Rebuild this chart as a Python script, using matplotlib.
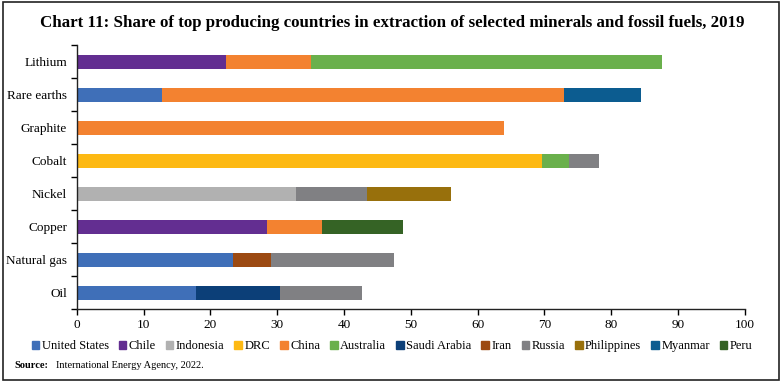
import numpy as np
import matplotlib
matplotlib.use("Agg")
from matplotlib import pyplot as plt
from matplotlib.patches import Rectangle

plt.rcParams['font.family'] = ['Liberation Serif', 'DejaVu Serif']

minerals = ['Lithium', 'Rare earths', 'Graphite', 'Cobalt', 'Nickel', 'Copper', 'Natural gas', 'Oil']
countries = ['United States', 'Chile', 'Indonesia', 'DRC', 'China', 'Australia',
             'Saudi Arabia', 'Iran', 'Russia', 'Philippines', 'Myanmar', 'Peru']
colors = ['#3F6FB8', '#632E91', '#B1B1B1', '#FDB913', '#F38230', '#6AB04C',
          '#0C3F78', '#9C4A12', '#808083', '#98700C', '#0C5C90', '#356325']

# shares in % per mineral, ordered as they are stacked
stacks = {
    'Lithium':     [('Chile', 22.4), ('China', 12.7), ('Australia', 52.5)],
    'Rare earths': [('United States', 12.7), ('China', 60.2), ('Myanmar', 11.5)],
    'Graphite':    [('China', 63.9)],
    'Cobalt':      [('DRC', 69.7), ('Australia', 4.0), ('Russia', 4.4)],
    'Nickel':      [('Indonesia', 32.8), ('Russia', 10.6), ('Philippines', 12.6)],
    'Copper':      [('Chile', 28.4), ('China', 8.3), ('Peru', 12.2)],
    'Natural gas': [('United States', 23.4), ('Iran', 5.7), ('Russia', 18.4)],
    'Oil':         [('United States', 17.9), ('Saudi Arabia', 12.5), ('Russia', 12.3)],
}
xticks = list(range(0, 101, 10))

cmap = dict(zip(countries, colors))

fig = plt.figure(figsize=(7.84, 3.82), dpi=100)
fig.patches.append(Rectangle((0.004, 0.006), 0.99, 0.988, transform=fig.transFigure,
                             fill=False, edgecolor='#222222', linewidth=1.2))
fig.text(0.5, 0.94, 'Chart 11: Share of top producing countries in extraction of selected minerals and fossil fuels, 2019',
         ha='center', va='center', fontsize=12.2, fontweight='bold')

ax = fig.add_axes([0.098, 0.19, 0.852, 0.692])
n = len(minerals)
for i, m in enumerate(minerals):
    y = n - 1 - i
    left = 0
    for c, v in stacks[m]:
        ax.barh(y, v, left=left, height=0.42, color=cmap[c], linewidth=0)
        left += v

ax.set_xlim(0, 100)
ax.set_ylim(-0.5, n - 0.5)
ax.set_xticks(xticks)
ax.set_xticklabels([str(t) for t in xticks], fontsize=9.5)
ax.set_yticks(np.arange(n))
ax.set_yticklabels(minerals[::-1], fontsize=9.5)
ax.set_yticks(np.arange(-0.5, n, 1), minor=True)
ax.tick_params(axis='y', which='major', length=0, pad=7)
ax.tick_params(axis='y', which='minor', length=4, width=1, direction='out')
ax.tick_params(axis='x', length=4, width=1, direction='out', pad=3)
for s in ['top', 'right']:
    ax.spines[s].set_visible(False)
for s in ['left', 'bottom']:
    ax.spines[s].set_linewidth(1)
    ax.spines[s].set_color('#222222')

handles = [Rectangle((0, 0), 1, 1, color=cmap[c]) for c in countries]
fig.legend(handles, countries, loc='center', bbox_to_anchor=(0.5, 0.094), ncol=12,
           frameon=False, fontsize=9, handlelength=0.6, handleheight=0.6,
           handletextpad=0.2, columnspacing=0.8)
fig.text(0.018, 0.042, 'Source:', fontsize=7.5, fontweight='bold', va='center')
fig.text(0.072, 0.042, 'International Energy Agency, 2022.', fontsize=7.5, va='center')

fig.savefig('out.png', dpi=100)
